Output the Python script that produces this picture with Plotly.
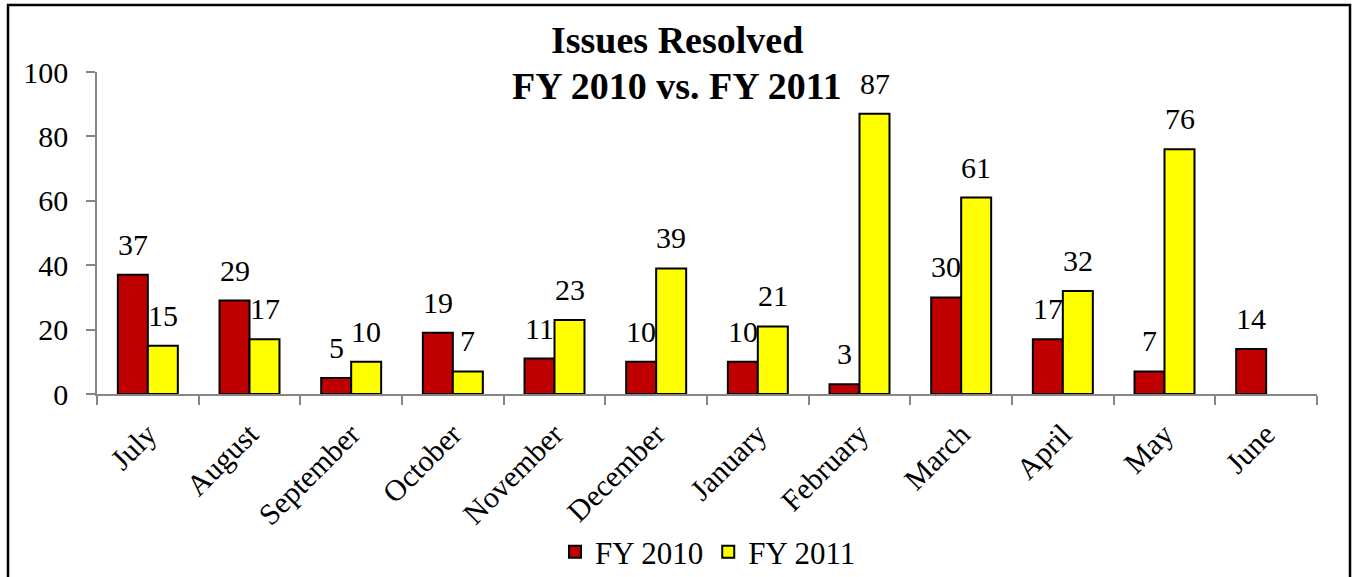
import plotly.graph_objects as go

months = ["July", "August", "September", "October", "November", "December",
          "January", "February", "March", "April", "May", "June"]
fy2010 = [37, 29, 5, 19, 11, 10, 10, 3, 30, 17, 7, 14]
fy2011 = [15, 17, 10, 7, 23, 39, 21, 87, 61, 32, 76, None]

title_lines = ["Issues Resolved", "FY 2010 vs. FY 2011"]

font_family = "Liberation Serif, Times New Roman, serif"

fig = go.Figure()
fig.add_trace(go.Bar(
    name="FY 2010", x=months, y=fy2010,
    marker=dict(color="#C00000", line=dict(color="black", width=2)),
))
fig.add_trace(go.Bar(
    name="FY 2011", x=months, y=fy2011,
    marker=dict(color="#FFFF00", line=dict(color="black", width=2)),
))

L, R, T, B = 97, 36, 72, 183
W, H = 1353, 577
pw, ph = W - L - R, H - T - B

def px_x(p):
    return (p - L) / pw

def px_y(p):
    return (H - B - p) / ph

# data labels above bars
for series, dx in ((fy2010, -15), (fy2011, 15)):
    for m, v in zip(months, series):
        if v is None:
            continue
        fig.add_annotation(x=m, y=v, text=str(v), showarrow=False,
                           xshift=dx, yshift=12, yanchor="bottom", xanchor="center",
                           font=dict(size=30, family=font_family, color="black"))

fig.update_layout(
    width=W, height=H,
    margin=dict(l=L, r=R, t=T, b=B, autoexpand=False),
    paper_bgcolor="white", plot_bgcolor="white",
    font=dict(family=font_family, size=30, color="black"),
    barmode="group", bargap=0.41, bargroupgap=0,
    showlegend=True,
    legend=dict(orientation="h", x=px_x(708), xanchor="center",
                y=px_y(552), yanchor="middle",
                font=dict(size=31, family=font_family), traceorder="normal"),
)
for txt, yc in zip(title_lines, [40, 86]):
    fig.add_annotation(text="<b>" + txt + "</b>", xref="paper", yref="paper",
                       x=px_x(677), y=px_y(yc), xanchor="center", yanchor="middle",
                       showarrow=False,
                       font=dict(size=38, family=font_family, color="black"))

fig.update_yaxes(range=[0, 100], dtick=20, ticks="outside", ticklen=9,
                 tickcolor="#868686", tickwidth=1.5, showline=True, linecolor="#868686",
                 linewidth=1.5, showgrid=False, zeroline=False,
                 ticklabelstandoff=12,
                 tickfont=dict(size=30, family=font_family))
fig.update_xaxes(ticks="outside", tickson="boundaries", ticklen=9,
                 tickcolor="#868686", tickwidth=1.5, showline=True, linecolor="#868686",
                 linewidth=1.5, showgrid=False, tickangle=-45,
                 ticklabelstandoff=9,
                 tickfont=dict(size=30, family=font_family))

fig.add_shape(type="rect", xref="paper", yref="paper",
              x0=px_x(8), x1=px_x(1350), y0=px_y(600), y1=px_y(5),
              line=dict(color="black", width=2.5), fillcolor="rgba(0,0,0,0)",
              layer="above")

fig.write_html("out.html", config={"displayModeBar": False},
               post_script="document.body.style.margin='0';document.body.style.padding='0';")
